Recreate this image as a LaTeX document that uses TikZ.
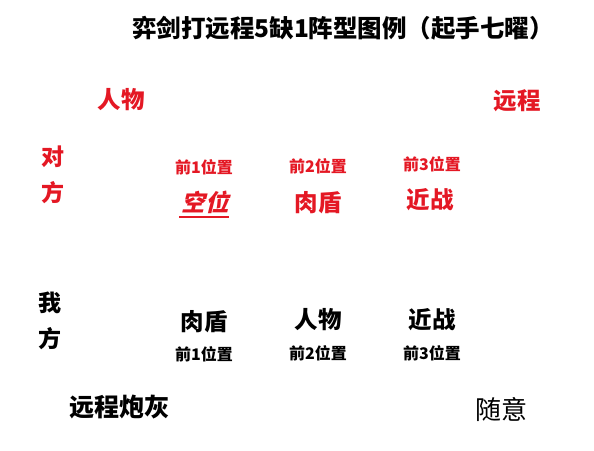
\documentclass[tikz,border=0pt]{standalone}
\usepackage{fontspec}
\newfontfamily\cjk{Noto Sans CJK SC}
\newfontfamily\cjkit{Noto Sans CJK SC}[FakeSlant=0.25]
\definecolor{tred}{RGB}{228,24,36}
\begin{document}
\begin{tikzpicture}[x=1pt,y=-1pt,
  every node/.style={inner sep=0pt,outer sep=0pt},
  title/.style={font=\cjk\bfseries\fontsize{24.5}{24.5}\selectfont},
  big/.style={font=\cjk\bfseries\fontsize{23.5}{23.5}\selectfont},
  small/.style={font=\cjk\bfseries\fontsize{16}{16}\selectfont},
  side/.style={font=\cjk\bfseries\fontsize{23}{23}\selectfont},
  red/.style={text=tred},
  blk/.style={text=black}]
\useasboundingbox[fill=white] (0,0) rectangle (594,450);
\node[title,blk] (title) at (343,28) {弈剑打远程5缺1阵型图例（起手七曜）};
\node[big,red] (erole) at (121,100) {人物};
\node[big,red] (erange) at (517,101) {远程};
\node[side,red] (edui) at (53,157) {对};
\node[side,red] (efang) at (53,193) {方};
\node[small,red] (ep1) at (204,167) {前1位置};
\node[small,red] (ep2) at (318,166) {前2位置};
\node[small,red] (ep3) at (432,164) {前3位置};
\node[big,red,font=\cjkit\bfseries\fontsize{23.5}{23.5}\selectfont] (eempty) at (205,202) {空位};
\draw[tred,line width=1.3pt] (179,217) -- (229,217);
\node[big,red] (etank) at (318,203) {肉盾};
\node[big,red] (emelee) at (430,200) {近战};
\node[side,blk] (mwo) at (50,303) {我};
\node[side,blk] (mfang) at (50,339) {方};
\node[big,blk] (mtank) at (204,322) {肉盾};
\node[big,blk] (mrole) at (318,320) {人物};
\node[big,blk] (mmelee) at (432,320) {近战};
\node[small,blk] (mp1) at (204,354) {前1位置};
\node[small,blk] (mp2) at (318,353) {前2位置};
\node[small,blk] (mp3) at (432,353) {前3位置};
\node[big,blk,font=\cjk\bfseries\fontsize{25}{25}\selectfont] (mrange) at (119,407) {远程炮灰};
\node[blk,font=\cjk\fontsize{26}{26}\selectfont] (mfree) at (501,409) {随意};
\end{tikzpicture}
\end{document}
